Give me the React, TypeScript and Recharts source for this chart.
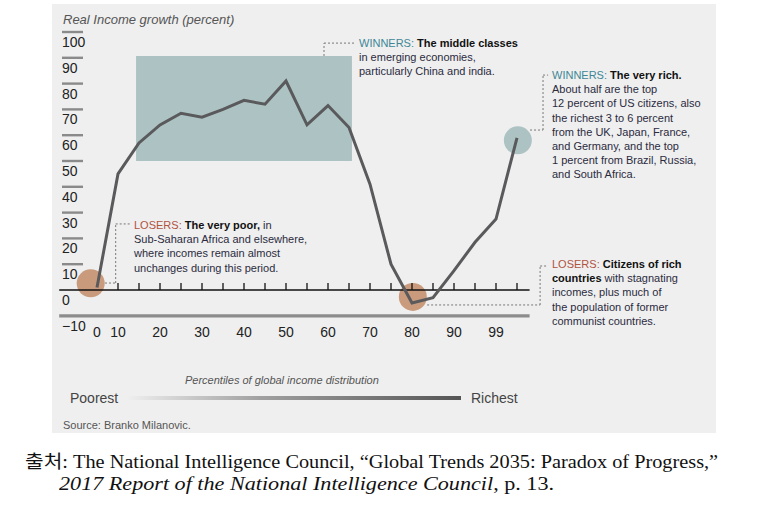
import React from 'react';
import { LineChart, Line, XAxis, YAxis, ReferenceArea, ReferenceLine, ReferenceDot } from 'recharts';

// x positions on the percentile scale (5 units per step) and growth in percent
const positions = [5, 10, 15, 20, 25, 30, 35, 40, 45, 50, 55, 60, 65, 70, 75, 80, 85, 90, 95, 100, 105];
const growth = [1, 45, 57, 64, 68.5, 67, 70, 73.5, 72, 81, 64, 71.5, 63, 41, 10, -5, -3, 7.5, 18.5, 27.5, 59];

const xTickPositions = [5, 10, 20, 30, 40, 50, 60, 70, 80, 90, 100];
const xTickLabels = ['0', '10', '20', '30', '40', '50', '60', '70', '80', '90', '99'];
const minorTicks = [10, 15, 20, 25, 30, 35, 40, 45, 50, 55, 60, 65, 70, 75, 80, 85, 90, 95, 100, 105];
const yTicks = [100, 90, 80, 70, 60, 50, 40, 30, 20, 10, 0, -10];

// highlighted band and circles
const middleBand = { x1: 14.3, x2: 65.7, y1: 50, y2: 90.7 };
const loserPoor = { x: 3.5, y: 2.6 };
const loserRich = { x: 80.2, y: -2.7 };
const winnerRich = { x: 105.2, y: 58 };

// leader lines, in chart units
const leaders = [
  [{ x: 6.9, y: 2.7 }, { x: 9.45, y: 2.7 }, { x: 9.45, y: 25.6 }, { x: 13.1, y: 25.6 }],
  [{ x: 59.05, y: 90.7 }, { x: 59.05, y: 95.7 }, { x: 66.4, y: 95.7 }],
  [{ x: 108.1, y: 62 }, { x: 111.2, y: 62 }, { x: 111.2, y: 83.3 }, { x: 112.4, y: 83.3 }],
  [{ x: 83.6, y: -5.8 }, { x: 110.5, y: -5.8 }, { x: 110.5, y: 9.3 }, { x: 112.4, y: 9.3 }],
];

const data = positions.map((p, i) => ({ p, g: growth[i] }));

const SANS = '"Liberation Sans", Arial, sans-serif';
const LOSE = '#b0533f';
const WIN = '#3e8796';
const BODY = '#2b2b40';

const YTick = (props: any) => {
  const { y, payload } = props;
  const v = payload.value;
  return (
    <g>
      {v > 0 && <line x1={62} x2={83} y1={y} y2={y} stroke="#8a8a8a" strokeWidth={2.4} />}
      <text x={62} y={y + 15} fontSize={14} fontFamily={SANS} fill="#222">
        {v < 0 ? '\u2212' + Math.abs(v) : v}
      </text>
    </g>
  );
};

const XTick = (props: any) => {
  const { x, payload } = props;
  const i = xTickPositions.indexOf(payload.value);
  return (
    <text x={x} y={337} textAnchor="middle" fontSize={14} fontFamily={SANS} fill="#222">
      {xTickLabels[i]}
    </text>
  );
};

const abs = (left: number, top: number, extra: React.CSSProperties = {}): React.CSSProperties => ({
  position: 'absolute',
  left,
  top,
  whiteSpace: 'nowrap',
  ...extra,
});

const note: React.CSSProperties = { fontFamily: SANS, fontSize: 11, lineHeight: '14.2px', color: BODY };

export default function App() {
  return (
    <div style={{ position: 'absolute', left: 0, top: 0, width: 758, height: 509, background: '#fff', overflow: 'hidden' }}>
      <div style={abs(52, 4, { width: 664, height: 429, background: '#efefef' })} />
      <div style={abs(63, 12, { fontFamily: SANS, fontSize: 13, fontStyle: 'italic', color: '#555' })}>
        Real Income growth (percent)
      </div>

      <div style={{ position: 'absolute', left: 0, top: 0 }}>
        <LineChart
          width={758}
          height={509}
          data={data}
          margin={{ top: 21.68, right: 228.4, bottom: 158.04, left: 39.2 }}
        >
          <XAxis
            dataKey="p"
            type="number"
            domain={[-4, 108]}
            allowDataOverflow
            ticks={xTickPositions}
            interval={0}
            tick={<XTick />}
            axisLine={false}
            tickLine={false}
            height={30}
          />
          <YAxis
            type="number"
            domain={[-12, 104]}
            allowDataOverflow
            ticks={yTicks}
            interval={0}
            tick={<YTick />}
            axisLine={false}
            tickLine={false}
            width={20}
          />
          <ReferenceArea {...middleBand} fill="#adc3c3" fillOpacity={1} stroke="none" zIndex={-10} />
          <ReferenceDot {...loserPoor} r={14} fill="#c99b7c" stroke="none" zIndex={-5} />
          <ReferenceDot {...loserRich} r={14} fill="#c99b7c" stroke="none" zIndex={-5} />
          <ReferenceDot {...winnerRich} r={14} fill="#adc3c3" stroke="none" ifOverflow="visible" zIndex={-5} />
          <ReferenceLine y={0} stroke="#111" strokeWidth={1.6} />
          <ReferenceLine y={-10} stroke="#8c8c8c" strokeWidth={3.2} />
          {minorTicks.map((t) => (
            <ReferenceLine key={'t' + t} segment={[{ x: t, y: 0 }, { x: t, y: 2.7 }]} stroke="#111" strokeWidth={1.3} />
          ))}
          {leaders.map((pts, k) =>
            pts.slice(1).map((pt, j) => (
              <ReferenceLine
                key={'l' + k + '-' + j}
                segment={[pts[j], pt]}
                stroke="#777"
                strokeWidth={1}
                strokeDasharray="2 2"
                ifOverflow="visible"
              />
            ))
          )}
          <Line
            dataKey="g"
            stroke="#5a5a5c"
            strokeWidth={3}
            dot={false}
            type="linear"
            isAnimationActive={false}
          />
        </LineChart>
      </div>

      <div style={abs(134, 218, note)}>
        <span style={{ color: LOSE }}>LOSERS: </span>
        <b style={{ color: '#111' }}>The very poor,</b> in
        <br />Sub-Saharan Africa and elsewhere,
        <br />where incomes remain almost
        <br />unchanges during this period.
      </div>
      <div style={abs(359, 36, note)}>
        <span style={{ color: WIN }}>WINNERS: </span>
        <b style={{ color: '#111' }}>The middle classes</b>
        <br />in emerging economies,
        <br />particularly China and india.
      </div>
      <div style={abs(552, 68, note)}>
        <span style={{ color: WIN }}>WINNERS: </span>
        <b style={{ color: '#111' }}>The very rich.</b>
        <br />About half are the top
        <br />12 percent of US citizens, also
        <br />the richest 3 to 6 percent
        <br />from the UK, Japan, France,
        <br />and Germany, and the top
        <br />1 percent from Brazil, Russia,
        <br />and South Africa.
      </div>
      <div style={abs(552, 257, note)}>
        <span style={{ color: LOSE }}>LOSERS: </span>
        <b style={{ color: '#111' }}>Citizens of rich</b>
        <br />
        <b style={{ color: '#111' }}>countries</b> with stagnating
        <br />incomes, plus much of
        <br />the population of former
        <br />communist countries.
      </div>

      <div style={abs(185, 374, { fontFamily: SANS, fontSize: 11, fontStyle: 'italic', color: '#555' })}>
        Percentiles of global income distribution
      </div>
      <div style={abs(70, 390, { fontFamily: SANS, fontSize: 14, color: '#444' })}>Poorest</div>
      <div
        style={abs(127, 396, {
          width: 334,
          height: 4,
          background: 'linear-gradient(to right, #efefef, #a0a0a0 40%, #555)',
        })}
      />
      <div style={abs(471, 390, { fontFamily: SANS, fontSize: 14, color: '#444' })}>Richest</div>
      <div style={abs(63, 419, { fontFamily: SANS, fontSize: 11, color: '#555' })}>Source: Branko Milanovic.</div>

      <div
        style={abs(25, 451, {
          fontFamily: '"Liberation Serif", "Noto Sans CJK KR", serif',
          fontSize: 18,
          lineHeight: '22px',
          color: '#111',
        })}
      >
        <div style={{ transform: 'scaleX(1.127)', transformOrigin: 'left center' }}>
          출처: The National Intelligence Council, “Global Trends 2035: Paradox of Progress,”
        </div>
        <div style={{ paddingLeft: 34, transform: 'scaleX(1.23)', transformOrigin: '34px center' }}>
          <i>2017 Report of the National Intelligence Council</i>, p. 13.
        </div>
      </div>
    </div>
  );
}
